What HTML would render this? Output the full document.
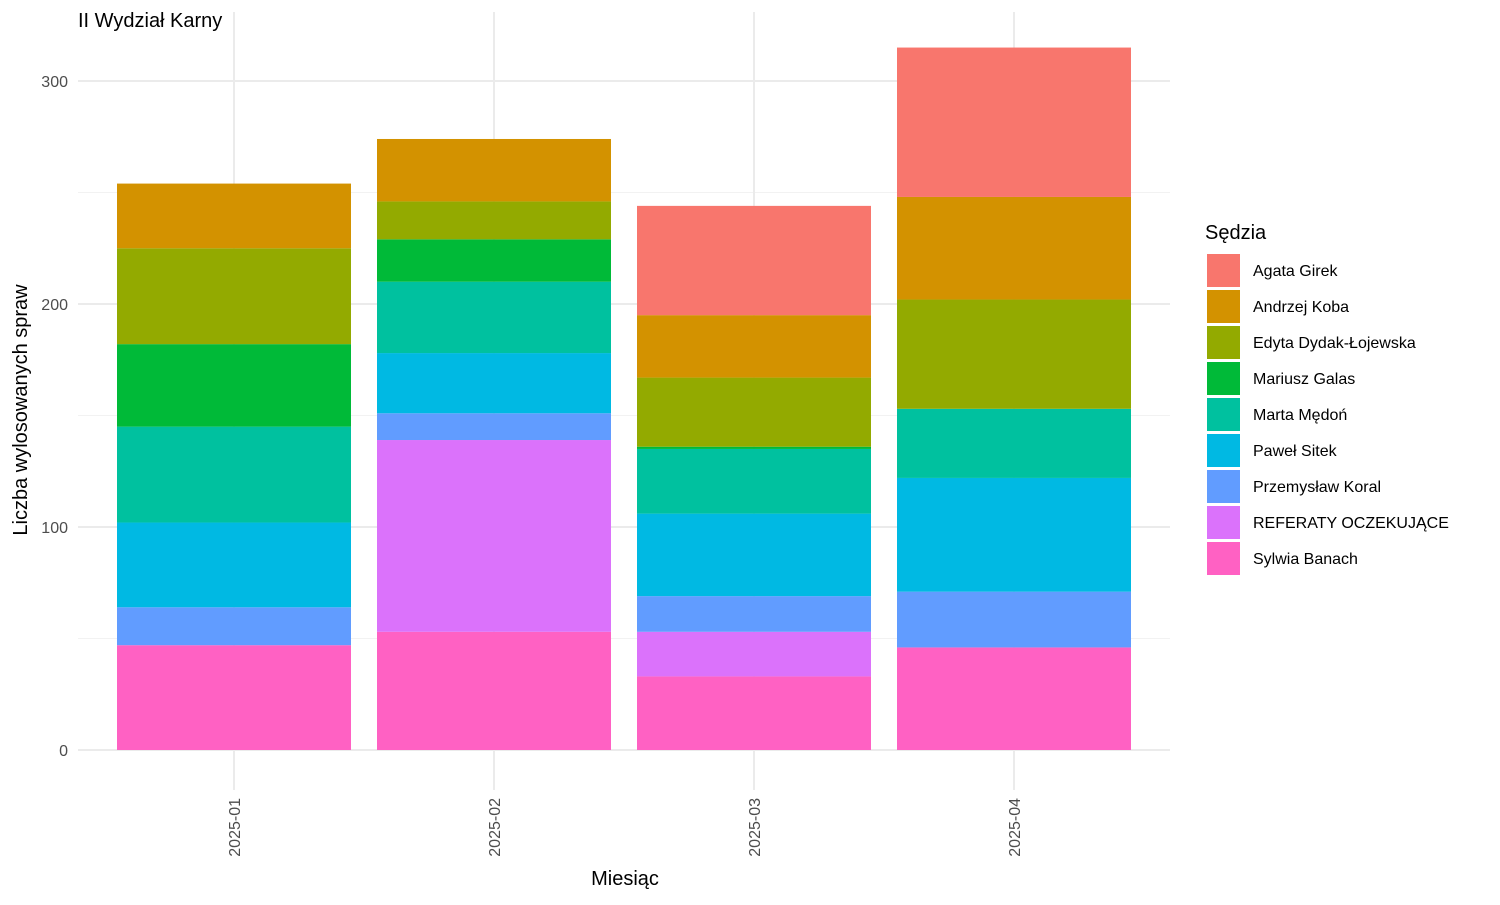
<!DOCTYPE html>
<html><head><meta charset="utf-8"><style>
body{margin:0;background:#fff;font-family:"Liberation Sans",sans-serif;}
svg text{font-family:"Liberation Sans",sans-serif;}
</style></head><body>
<svg id="chart" width="1500" height="900" xmlns="http://www.w3.org/2000/svg">
<g id="grid"></g><g id="bars"></g><g id="axes"></g><g id="legend"></g>
<text x="78" y="27" font-size="20" fill="#000">II Wydział Karny</text>
<text x="625" y="885" font-size="20" text-anchor="middle">Miesiąc</text>
<text transform="translate(27,410) rotate(-90)" font-size="20" text-anchor="middle">Liczba wylosowanych spraw</text>
</svg>
<script>
const months=["2025-01","2025-02","2025-03","2025-04"];
const judges=["Sylwia Banach","REFERATY OCZEKUJĄCE","Przemysław Koral","Paweł Sitek","Marta Mędoń","Mariusz Galas","Edyta Dydak-Łojewska","Andrzej Koba","Agata Girek"];
const colors=["#FF61C3","#DB72FB","#619CFF","#00B9E3","#00C19F","#00BA38","#93AA00","#D39200","#F8766D"];
const sylwia=[47,53,33,46];
const referaty=[0,86,20,0];
const przemyslaw=[17,12,16,25];
const pawel=[38,27,37,51];
const marta=[43,32,29,31];
const mariusz=[37,19,1,0];
const edyta=[43,17,31,49];
const andrzej=[29,28,28,46];
const agata=[0,0,49,67];
const series=[sylwia,referaty,przemyslaw,pawel,marta,mariusz,edyta,andrzej,agata];
const yTicks=[0,100,200,300];
const yMinor=[50,150,250];
const legendOrder=["Agata Girek","Andrzej Koba","Edyta Dydak-Łojewska","Mariusz Galas","Marta Mędoń","Paweł Sitek","Przemysław Koral","REFERATY OCZEKUJĄCE","Sylwia Banach"];
const NS="http://www.w3.org/2000/svg";
const y=v=>750-v*2.23;
const x=i=>234+i*260;
const bw=234;
function mk(tag,attrs,parent){const e=document.createElementNS(NS,tag);for(const k in attrs)e.setAttribute(k,attrs[k]);parent.appendChild(e);return e;}
const grid=document.getElementById('grid'),bars=document.getElementById('bars'),axes=document.getElementById('axes'),leg=document.getElementById('legend');
yMinor.forEach(v=>{const l=mk('line',{x1:78,x2:1170,y1:y(v),y2:y(v),stroke:'#f2f2f2','stroke-width':1},grid);

});
yTicks.forEach(v=>{const l=mk('line',{x1:78,x2:1170,y1:y(v),y2:y(v),stroke:'#ebebeb','stroke-width':2},grid);


const t=mk('text',{x:68,y:y(v)+6,'font-size':16,fill:'#4d4d4d','text-anchor':'end'},axes);t.textContent=v;

});
months.forEach((m,i)=>{const l=mk('line',{x1:x(i),x2:x(i),y1:12,y2:790,stroke:'#ebebeb','stroke-width':2},grid);


const t=mk('text',{transform:`translate(${x(i)+6},798) rotate(-90)`,'font-size':16,fill:'#4d4d4d','text-anchor':'end'},axes);t.textContent=m;


let cum=0;series.forEach((s,j)=>{const v=s[i];if(!v)return;const r=mk('rect',{x:x(i)-bw/2,y:y(cum+v),width:bw,height:v*2.23,fill:colors[j]},bars);


cum+=v;});});
const lt=mk('text',{x:1205,y:239,'font-size':20},leg);lt.textContent="Sędzia";


legendOrder.forEach((n,k)=>{const c=colors[judges.indexOf(n)];const yy=254+k*36;
const r=mk('rect',{x:1207,y:yy,width:33,height:33,fill:c},leg);


const t=mk('text',{x:1253,y:yy+22,'font-size':16},leg);t.textContent=n;

});
</script>
</body></html>
